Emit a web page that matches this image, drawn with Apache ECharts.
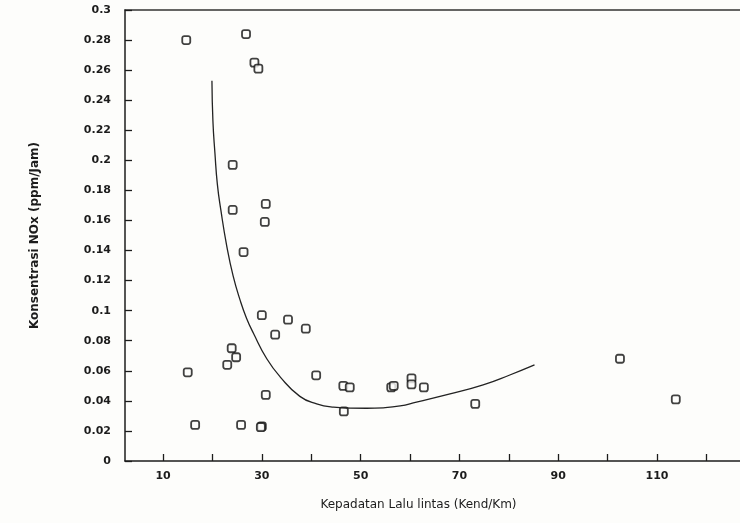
<!DOCTYPE html>
<html>
<head>
<meta charset="utf-8">
<script src="https://cdn.jsdelivr.net/npm/echarts@6/dist/echarts.min.js"></script>
<style>
html,body{margin:0;padding:0;background:#fdfdfb;}
#chart{width:740px;height:523px;}
</style>
</head>
<body>
<div id="chart"></div>
<script>
// Observed points: traffic density (Kend/Km) vs NOx concentration (ppm/Jam)
const pointX = [14.7, 26.8, 28.5, 29.3, 24.1, 24.1, 30.8, 30.6, 26.3, 30.0, 32.7, 35.3, 38.9, 41.0,
                15.0, 16.5, 23.0, 23.9, 24.8, 25.8, 30.0, 29.8, 30.8, 46.5, 47.8, 46.6, 56.2, 56.7,
                60.3, 60.3, 62.8, 73.2, 102.5, 113.8];
const pointY = [0.280, 0.284, 0.265, 0.261, 0.197, 0.167, 0.171, 0.159, 0.139, 0.097, 0.084, 0.094, 0.088, 0.057,
                0.059, 0.024, 0.064, 0.075, 0.069, 0.024, 0.023, 0.0225, 0.044, 0.050, 0.049, 0.033, 0.049, 0.050,
                0.055, 0.051, 0.049, 0.038, 0.068, 0.041];
// Fitted curve
const curveX = [19.9, 20.1, 20.5, 21.0, 21.7, 22.9, 24.2, 25.6, 26.9, 28.3, 31.0, 33.7, 37.7, 41.1,
                44.5, 47.9, 51.2, 54.6, 58.0, 61.3, 68.1, 74.8, 80.2, 85.2];
const curveY = [0.253, 0.226, 0.205, 0.184, 0.167, 0.143, 0.123, 0.107, 0.095, 0.085, 0.068, 0.056, 0.043, 0.038,
                0.0358, 0.0352, 0.0351, 0.0354, 0.0366, 0.0392, 0.0446, 0.0506, 0.0572, 0.0639];
const xTickValues = [10, 20, 30, 40, 50, 60, 70, 80, 90, 100, 110, 120];
const xLabelValues = [10, 30, 50, 70, 90, 110];
const xName = 'Kepadatan Lalu lintas (Kend/Km)';
const yName = 'Konsentrasi NOx (ppm/Jam)';

const ink = '#1c1c1c';
const font = 'DejaVu Sans';
const chart = echarts.init(document.getElementById('chart'));
chart.setOption({
  backgroundColor: '#fdfdfb',
  animation: false,
  grid: {left: 125, top: 10, right: 0, bottom: 62},
  xAxis: [{
    type: 'value', min: 2.3, max: 126.8,
    name: xName, nameLocation: 'middle', nameGap: 38,
    nameTextStyle: {color: ink, fontFamily: font, fontSize: 12, padding: [0, 28, 0, 0]},
    axisLine: {lineStyle: {color: ink, width: 1.5}},
    axisTick: {inside: true, length: 7, customValues: xTickValues, lineStyle: {color: ink, width: 1.3}},
    axisLabel: {customValues: xLabelValues, color: ink, fontFamily: font, fontSize: 11, fontWeight: 'bold', margin: 10},
    splitLine: {show: false}
  }, {
    type: 'value', min: 2.3, max: 126.8, position: 'top',
    axisLine: {show: true, lineStyle: {color: '#333', width: 1.5}},
    axisTick: {show: false}, axisLabel: {show: false}, splitLine: {show: false}
  }],
  yAxis: {
    type: 'value', min: 0, max: 0.3, interval: 0.02,
    name: yName, nameLocation: 'middle', nameGap: 84,
    nameTextStyle: {color: ink, fontFamily: font, fontSize: 12, fontWeight: 'bold'},
    axisLine: {show: true, lineStyle: {color: ink, width: 1.5}},
    axisTick: {inside: true, length: 7, lineStyle: {color: ink, width: 1.3}},
    axisLabel: {color: ink, fontFamily: font, fontSize: 11, fontWeight: 'bold', margin: 14},
    splitLine: {show: false}
  },
  series: [{
    type: 'line', xAxisIndex: 0,
    data: curveX.map((x, i) => [x, curveY[i]]),
    smooth: 0.5, showSymbol: false,
    lineStyle: {color: '#222', width: 1.3}
  }, {
    type: 'scatter', xAxisIndex: 0,
    data: pointX.map((x, i) => [x, pointY[i]]),
    symbol: 'roundRect', symbolSize: 8,
    itemStyle: {color: '#fdfdfb', borderColor: '#111', borderWidth: 1.8}
  }]
});
</script>
</body>
</html>
